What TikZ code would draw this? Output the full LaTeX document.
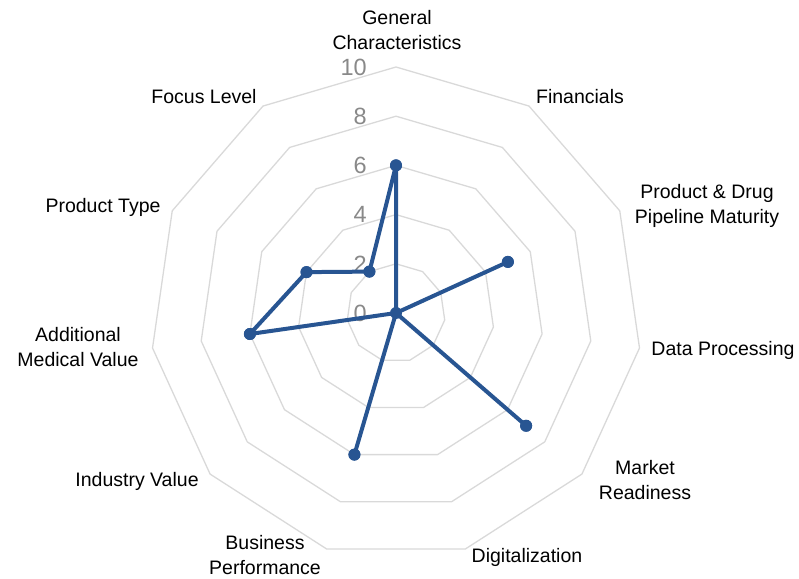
\documentclass[tikz,border=0pt]{standalone}
\usepackage{fontspec}
\setmainfont{Liberation Sans}
\definecolor{gridgray}{RGB}{217,217,217}
\definecolor{tickgray}{RGB}{137,137,137}
\definecolor{serblue}{RGB}{40,85,146}
\begin{document}
\begin{tikzpicture}[x=1pt,y=1pt,
  gridline/.style={draw=gridgray,line width=1.3pt,line join=round},
  tick/.style={text=tickgray,font=\fontsize{23.5}{23.5}\selectfont,anchor=east,inner sep=0pt},
  axlabel/.style={font=\fontsize{19.5}{24.5}\selectfont,align=center,inner sep=0pt,text=black},
  dot/.style={circle,fill=serblue,inner sep=0pt,minimum size=12pt},
  series/.style={draw=serblue,line width=4pt,line join=round}]
\useasboundingbox (0,0) rectangle (799,578);
\begin{scope}[shift={(396,265)}]
  % grid polygons
  \foreach \r in {2,4,6,8,10}{
    \draw[gridline] (90:{\r*24.6})
      \foreach \k in {1,...,10}{ -- ({90-\k*360/11}:{\r*24.6}) } -- cycle;
  }
  % ticks
  \foreach \r in {0,2,4,6,8,10}{
    \node[tick] (t\r) at (-29,{\r*24.6}) {\r};
  }
  % data points
  \node[dot] (p0) at (90:{6*24.6}) {};
  \node[dot,minimum size=6pt,fill=none] (p1) at (0,0) {};
  \node[dot] (p2) at ({90-2*360/11}:{5*24.6}) {};
  \node[dot,minimum size=6pt,fill=none] (p3) at (0,0) {};
  \node[dot] (p4) at ({90-4*360/11}:{7*24.6}) {};
  \node[dot,minimum size=6pt,fill=none] (p5) at (0,0) {};
  \node[dot] (p6) at ({90-6*360/11}:{6*24.6}) {};
  \node[dot,minimum size=6pt,fill=none] (p7) at (0,0) {};
  \node[dot] (p8) at ({90-8*360/11}:{6*24.6}) {};
  \node[dot] (p9) at ({90-9*360/11}:{4*24.6}) {};
  \node[dot] (p10) at ({90-10*360/11}:{2*24.6}) {};
  \draw[series] (p0.center) -- (p1.center) -- (p2.center) -- (p3.center) -- (p4.center)
    -- (p5.center) -- (p6.center) -- (p7.center) -- (p8.center) -- (p9.center)
    -- (p10.center) -- cycle;
  \fill[serblue] (0,0) circle (6pt);
  \foreach \k in {0,2,4,6,8,9,10}{ \fill[serblue] (p\k) circle (6pt); }
\end{scope}
% axis labels
\node[axlabel] (l0) at (397,548) {General\\Characteristics};
\node[axlabel] (l1) at (580,481) {Financials};
\node[axlabel] (l2) at (707,372) {Product \& Drug\\Pipeline Maturity};
\node[axlabel] (l3) at (723,228) {Data Processing};
\node[axlabel] (l4) at (645,98) {Market\\Readiness};
\node[axlabel] (l5) at (527,21) {Digitalization};
\node[axlabel] (l6) at (265,23) {Business\\Performance};
\node[axlabel] (l7) at (137,97) {Industry Value};
\node[axlabel] (l8) at (78,231) {Additional\\Medical Value};
\node[axlabel] (l9) at (103,371) {Product Type};
\node[axlabel] (l10) at (204,481) {Focus Level};
\end{tikzpicture}
\end{document}
